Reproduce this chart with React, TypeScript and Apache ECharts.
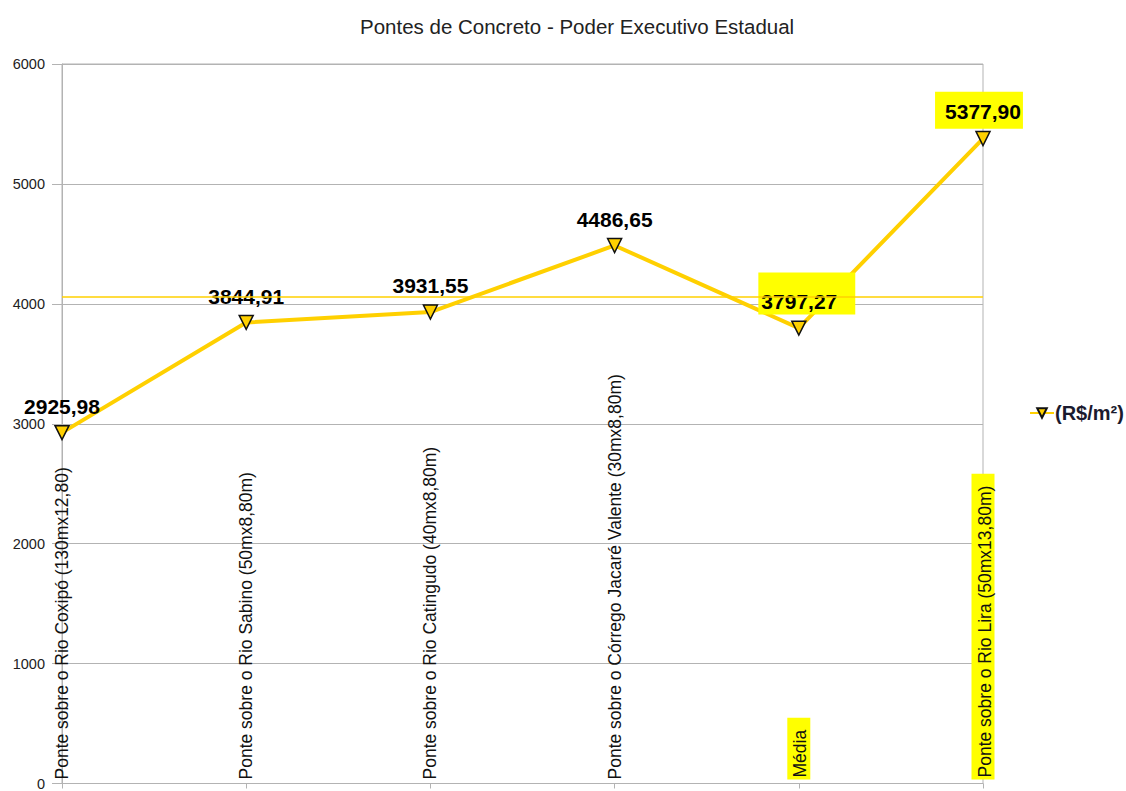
import React, { useEffect, useRef } from "react";
import * as echarts from "echarts";

const titleText = "Pontes de Concreto - Poder Executivo Estadual";
const seriesName = "(R$/m²)";
const categories = [
  "Ponte sobre o Rio Coxipó (130mx12,80)",
  "Ponte sobre o Rio Sabino (50mx8,80m)",
  "Ponte sobre o Rio Catingudo (40mx8,80m)",
  "Ponte sobre o Córrego Jacaré Valente (30mx8,80m)",
  "Média",
  "Ponte sobre o Rio Lira (50mx13,80m)",
];
const values = [2925.98, 3844.91, 3931.55, 4486.65, 3797.27, 5377.9];
const highlightedCategories = ["Média", "Ponte sobre o Rio Lira (50mx13,80m)"];
const highlightedValueIndexes = [4, 5];
const yMin = 0;
const yMax = 6000;
const yInterval = 1000;

const FONT = "'Liberation Sans', Arial, sans-serif";
const YELLOW = "#ffd000";
const HL = "#ffff00";
const GRID = "#b3b3b3";

const fmt = (v: number) => v.toFixed(2).replace(".", ",");

export default function App() {
  const ref = useRef<HTMLDivElement>(null);
  useEffect(() => {
    document.body.style.margin = "0";
    const chart = echarts.init(ref.current!, undefined, { renderer: "svg" });
    const labelExtra: Record<number, any> = {
      4: { backgroundColor: HL, padding: [19, 18, 2, 3], offset: [8, 2] },
      5: { backgroundColor: HL, padding: [9, 2, 7, 10], offset: [-4, 6] },
    };
    const data = values.map((v, i) =>
      highlightedValueIndexes.includes(i)
        ? { value: v, label: { ...labelExtra[i] } }
        : { value: v }
    );
    chart.setOption({
      animation: false,
      textStyle: { fontFamily: FONT },
      title: {
        text: titleText,
        left: 355,
        top: 11,
        textStyle: { fontFamily: FONT, fontSize: 20.5, fontWeight: "normal", color: "#222" },
      },
      legend: {
        data: [seriesName],
        orient: "vertical",
        left: 1024,
        top: 398,
        itemWidth: 24,
        itemHeight: 12,
        itemGap: 4,
        textStyle: { fontFamily: FONT, fontSize: 20, fontWeight: "bold", color: "#1a1a2e", padding: [0, 0, 0, -4] },
      },
      grid: {
        left: 62,
        right: 143,
        top: 64,
        bottom: 5,
        show: true,
        borderColor: GRID,
        borderWidth: 1,
        containLabel: false,
      },
      xAxis: {
        type: "category",
        data: categories,
        boundaryGap: false,
        axisLine: { show: true, lineStyle: { color: GRID, width: 1 } },
        axisTick: { show: true, length: 5, lineStyle: { color: GRID } },
        splitLine: { show: false },
        axisLabel: {
          inside: true,
          rotate: 90,
          margin: 4,
          interval: 0,
          fontFamily: FONT,
          fontSize: 17.5,
          color: "#111",
          formatter: (v: string) => (highlightedCategories.includes(v) ? `{hl|${v}}` : v),
          rich: {
            hl: {
              backgroundColor: HL,
              padding: [4, 12, 1, 2],
              fontFamily: FONT,
              fontSize: 17.5,
              color: "#111",
            },
          },
        },
      },
      yAxis: {
        type: "value",
        min: yMin,
        max: yMax,
        interval: yInterval,
        axisLine: { show: true, lineStyle: { color: GRID, width: 1 } },
        axisTick: { show: true, length: 10, lineStyle: { color: GRID } },
        splitLine: { show: true, lineStyle: { color: GRID, width: 1 } },
        axisLabel: {
          margin: 17,
          fontFamily: FONT,
          fontSize: 14.5,
          color: "#222",
          formatter: (v: number) => String(v),
        },
      },
      series: [
        {
          name: seriesName,
          type: "line",
          data,
          symbol: "path://M0,0 L10,0 L5,10 Z",
          symbolSize: 14,
          lineStyle: { color: YELLOW, width: 4 },
          itemStyle: { color: YELLOW, borderColor: "#111", borderWidth: 1.5 },
          label: {
            show: true,
            position: "top",
            distance: 8,
            fontFamily: FONT,
            fontSize: 21,
            fontWeight: "bold",
            color: "#000",
            formatter: (p: any) => fmt(p.value),
          },
          markLine: {
            silent: true,
            symbol: "none",
            label: { show: false },
            lineStyle: { color: YELLOW, width: 1.5, type: "solid" },
            data: [{ type: "average" }],
          },
          z: 3,
        },
      ],
    });
    return () => chart.dispose();
  }, []);
  return <div ref={ref} style={{ width: 1126, height: 791 }} />;
}
